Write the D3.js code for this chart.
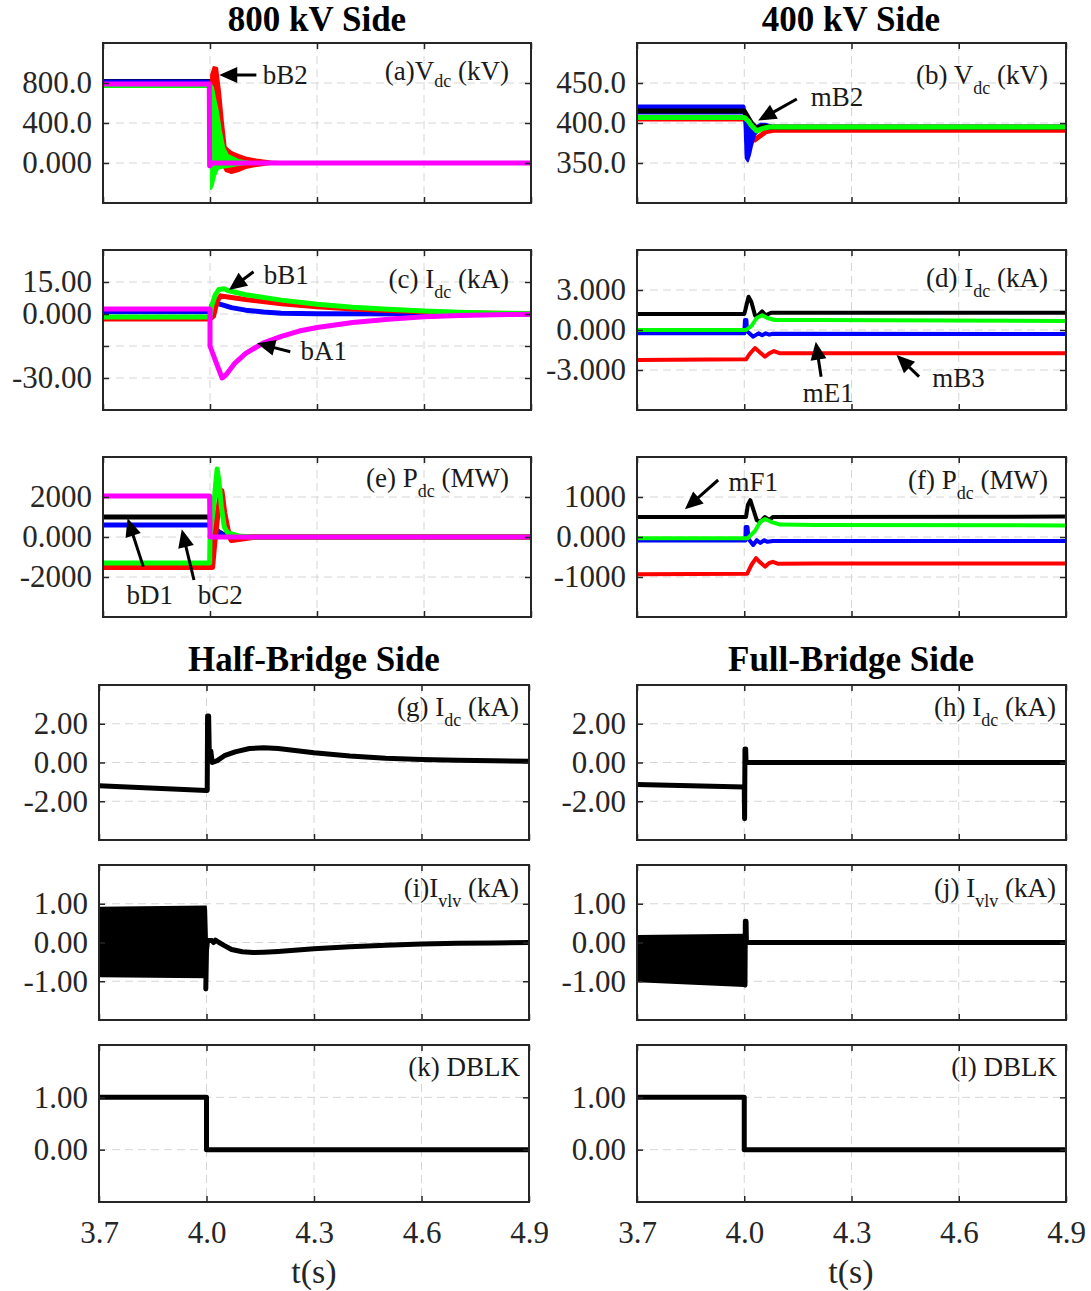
<!DOCTYPE html>
<html>
<head>
<meta charset="utf-8">
<script src="https://cdn.jsdelivr.net/npm/d3@7"></script>
<style>
  body { margin: 0; background: #fff; }
  text { font-family: "Liberation Serif", "Times New Roman", serif; }
</style>
</head>
<body>
<svg id="chart" width="1091" height="1291" font-family="Liberation Serif"></svg>
<script>
var red = "#ff0000", green = "#00ff00", blue = "#0000ff", black = "#000000", magenta = "#ff00ff";

// shared time axis
var xTicks = [3.7, 4.0, 4.3, 4.6, 4.9];
var xTickLabels = ["3.7", "4.0", "4.3", "4.6", "4.9"];
var xGrid = [4.0, 4.3, 4.6];
var colTitles = ["800 kV Side", "400 kV Side", "Half-Bridge Side", "Full-Bridge Side"];

// (a) Vdc, 800 kV side
var aTicks = [0, 400, 800];
var aTickLabels = ["0.000", "400.0", "800.0"];
var aBlack = [[3.7, 820], [4.0, 820], [4.0, 0], [4.9, 0]];
var aBlue = [[3.7, 815], [4.0, 815], [4.0, 0], [4.9, 0]];
var aRed = [[3.7, 775], [4.0, 775], [4.005, 0], [4.9, 0]];
var aRedBand = [[4.003, -40, 880], [4.01, 30, 960], [4.02, 80, 950], [4.028, 40, 720], [4.036, -20, 420],
                [4.044, -80, 160], [4.06, -100, 110], [4.08, -80, 80], [4.1, -50, 55], [4.13, -30, 35],
                [4.17, -10, 15], [4.22, 0, 5]];
var aGreen = [[3.7, 770], [4.0, 770], [4.003, 0], [4.9, 0]];
var aGreenBand = [[4.003, -260, 780], [4.008, -220, 760], [4.014, -130, 650], [4.022, -60, 520], [4.03, -50, 330],
                  [4.04, -45, 150], [4.05, -40, 80], [4.08, -20, 30], [4.12, 0, 5]];
var aMagenta = [[3.7, 790], [3.998, 790], [3.999, -30], [4.005, 0], [4.9, 0]];

// (b) Vdc, 400 kV side
var bTicks = [350, 400, 450];
var bTickLabels = ["350.0", "400.0", "450.0"];
var bRed = [[3.7, 405], [4.0, 405], [4.01, 400], [4.02, 386], [4.03, 379], [4.045, 384], [4.06, 389], [4.08, 391], [4.9, 391]];
var bBlueBand = [[3.7, 412, 422], [3.999, 412, 422], [4.001, 395, 420], [4.004, 356, 408], [4.01, 352, 396],
                 [4.016, 360, 392], [4.022, 372, 390], [4.03, 385, 395], [4.045, 392, 399], [4.06, 394, 399],
                 [4.08, 394, 396], [4.9, 394, 396]];
var bBlack = [[3.7, 415], [4.0, 415], [4.02, 400], [4.035, 393], [4.05, 396], [4.07, 395], [4.9, 395]];
var bGreen = [[3.7, 407], [4.0, 407], [4.01, 403], [4.02, 397], [4.035, 390], [4.05, 393], [4.07, 395], [4.9, 395]];

// (c) Idc, 800 kV side
var cTicks = [-30, -15, 0, 15];
var cTickLabels = ["-30.00", "", "0.000", "15.00"];
var cRed = [[3.7, -2.3], [4.0, -2.3], [4.01, -1], [4.02, 6], [4.03, 8.5], [4.05, 8], [4.1, 6.8], [4.2, 4.8], [4.3, 3.4],
            [4.4, 2.4], [4.5, 1.6], [4.6, 1], [4.7, 0.6], [4.8, 0.3], [4.9, 0.1]];
var cBlue = [[3.7, 1], [4.0, 1], [4.005, 4], [4.012, 5.5], [4.03, 4.5], [4.06, 3], [4.1, 1.8], [4.15, 0.9], [4.2, 0.4],
             [4.3, 0.1], [4.9, 0]];
var cGreen = [[3.7, -1.4], [4.0, -1.4], [4.005, 4], [4.015, 9], [4.025, 11.5], [4.04, 11.8], [4.05, 11], [4.1, 9],
              [4.2, 6.5], [4.3, 4.6], [4.4, 3.2], [4.5, 2.2], [4.6, 1.4], [4.7, 0.8], [4.8, 0.4], [4.9, 0.2]];
var cMagenta = [[3.7, 2.3], [4.0, 2.3], [4.0, -15], [4.02, -24], [4.034, -30], [4.045, -28.5], [4.07, -23], [4.1, -18.5],
                [4.15, -13.5], [4.2, -10.5], [4.25, -8], [4.3, -6.3], [4.4, -4], [4.5, -2.5], [4.6, -1.3],
                [4.7, -0.7], [4.8, -0.3], [4.9, -0.1]];

// (d) Idc, 400 kV side
var dTicks = [-3, 0, 3];
var dTickLabels = ["-3.000", "0.000", "3.000"];
var dBlack = [[3.7, 1.2], [4.0, 1.2], [4.003, 1.5], [4.012, 2.5], [4.02, 2.1], [4.03, 1.1], [4.035, 1.0], [4.05, 1.4],
              [4.06, 1.1], [4.075, 1.3], [4.9, 1.3]];
var dGreen = [[3.7, 0], [4.005, 0], [4.02, 0.3], [4.035, 0.9], [4.05, 1.1], [4.065, 0.9], [4.085, 0.75], [4.2, 0.75],
              [4.9, 0.67]];
var dBlue = [[3.7, -0.25], [4.0, -0.25], [4.002, 0.75], [4.006, 0.75], [4.008, -0.1], [4.025, -0.5], [4.04, -0.25],
             [4.05, -0.4], [4.06, -0.25], [4.07, -0.35], [4.08, -0.28], [4.9, -0.3]];
var dRed = [[3.7, -2.25], [4.005, -2.2], [4.015, -1.8], [4.03, -1.35], [4.045, -1.7], [4.058, -2.0], [4.07, -1.75],
            [4.083, -1.58], [4.1, -1.75], [4.9, -1.75]];

// (e) Pdc, 800 kV side
var eTicks = [-2000, 0, 2000];
var eTickLabels = ["-2000", "0.000", "2000"];
var eBlack = [[3.7, 1000], [4.0, 1000], [4.003, 0], [4.02, 300], [4.04, 100], [4.1, 0], [4.9, 0]];
var eBlue = [[3.7, 600], [4.0, 600], [4.003, 0], [4.02, 300], [4.04, 50], [4.1, 0], [4.9, 0]];
var eRed = [[3.7, -1500], [4.006, -1500], [4.012, -300], [4.02, 1000], [4.032, 2300], [4.04, 1200], [4.05, 300],
            [4.06, -150], [4.08, -100], [4.12, 0], [4.9, 0]];
var eGreen = [[3.7, -1300], [3.999, -1300], [4.0, 0], [4.01, 1500], [4.02, 3400], [4.025, 2800], [4.032, 1500],
              [4.04, 500], [4.05, 200], [4.08, 50], [4.12, 0], [4.9, 0]];
var eMagenta = [[3.7, 2050], [3.999, 2050], [4.0, 0], [4.9, 0]];

// (f) Pdc, 400 kV side
var fTicks = [-1000, 0, 1000];
var fTickLabels = ["-1000", "0.000", "1000"];
var fBlack = [[3.7, 500], [4.005, 500], [4.01, 800], [4.017, 920], [4.025, 700], [4.035, 420], [4.045, 380],
              [4.058, 500], [4.07, 420], [4.08, 500], [4.9, 510]];
var fGreen = [[3.7, -30], [4.01, -30], [4.03, 150], [4.045, 380], [4.058, 450], [4.075, 380], [4.1, 310], [4.2, 300],
              [4.9, 290]];
var fBlue = [[3.7, -90], [4.003, -90], [4.004, 250], [4.009, 250], [4.012, -50], [4.025, -200], [4.035, -80],
             [4.045, -150], [4.055, -80], [4.065, -120], [4.08, -100], [4.9, -100]];
var fRed = [[3.7, -930], [4.008, -920], [4.02, -700], [4.033, -530], [4.045, -640], [4.058, -740], [4.07, -650],
            [4.08, -620], [4.095, -670], [4.2, -660], [4.9, -660]];

// (g) Idc, half-bridge side
var gTicks = [-2, 0, 2];
var gTickLabels = ["-2.00", "0.00", "2.00"];
var gBlack = [[3.7, -1.2], [4.0, -1.45], [4.002, -1.45], [4.003, 2.4], [4.006, 2.4], [4.008, 0.2], [4.012, 0.6],
              [4.016, 0.0], [4.03, 0.1], [4.05, 0.35], [4.08, 0.55], [4.12, 0.72], [4.16, 0.76], [4.2, 0.72],
              [4.3, 0.5], [4.4, 0.33], [4.5, 0.22], [4.6, 0.16], [4.7, 0.12], [4.8, 0.09], [4.9, 0.07]];

// (h) Idc, full-bridge side
var hTicks = [-2, 0, 2];
var hTickLabels = ["-2.00", "0.00", "2.00"];
var hBlack = [[3.7, -1.13], [4.0, -1.27], [4.001, -2.9], [4.002, 0.7], [4.004, 0.7], [4.005, 0], [4.9, 0]];

// (i) Ivlv, half-bridge side
var iTicks = [-1, 0, 1];
var iTickLabels = ["-1.00", "0.00", "1.00"];
var iBand = [[3.7, -0.7, 0.7], [3.702, -0.87, 0.9], [3.998, -0.9, 0.93], [3.999, -0.85, 0.85], [4.001, -0.3, 0.2]];
var iBlack = [[3.998, -1.2], [4.0, -0.2], [4.003, 0.05], [4.015, 0.05], [4.02, 0.0], [4.025, 0.06], [4.035, 0.0],
              [4.05, -0.08], [4.07, -0.18], [4.1, -0.24], [4.13, -0.26], [4.16, -0.25], [4.2, -0.23], [4.3, -0.16],
              [4.4, -0.11], [4.5, -0.07], [4.6, -0.04], [4.7, -0.02], [4.8, -0.01], [4.9, 0]];

// (j) Ivlv, full-bridge side
var jTicks = [-1, 0, 1];
var jTickLabels = ["-1.00", "0.00", "1.00"];
var jBand = [[3.7, -0.95, 0.15], [3.701, -1.0, 0.17], [4.0, -1.12, 0.2]];
var jBlack = [[4.002, -1.1], [4.003, 0.55], [4.005, 0.55], [4.006, 0], [4.9, 0]];

// (k), (l) DBLK
var kTicks = [0, 1];
var kTickLabels = ["0.00", "1.00"];
var kBlack = [[3.7, 1], [4.0, 1], [4.0, 0], [4.9, 0]];
var lBlack = [[3.7, 1], [4.0, 1], [4.0, 0], [4.9, 0]];

// annotations: tip, tail and text position in data units
var notes = [
    {panel: "a", text: "bB2", tip: [4.026, 880], tail: [4.13, 880], at: [4.148, 880], anchor: "start"},
    {panel: "b", text: "mB2", tip: [4.039, 403], tail: [4.147, 430], at: [4.186, 433], anchor: "start"},
    {panel: "c", text: "bB1", tip: [4.053, 11.25], tail: [4.122, 19.8], at: [4.151, 18.3], anchor: "start"},
    {panel: "c", text: "bA1", tip: [4.132, -13.75], tail: [4.225, -17.7], at: [4.254, -16.9], anchor: "start"},
    {panel: "d", text: "mE1", tip: [4.2, -0.88], tail: [4.215, -3.5], at: [4.235, -4.67], anchor: "middle"},
    {panel: "d", text: "mB3", tip: [4.426, -1.875], tail: [4.489, -3.5], at: [4.599, -3.55], anchor: "middle"},
    {panel: "e", text: "bD1", tip: [3.769, 935], tail: [3.813, -1483], at: [3.831, -2900], anchor: "middle"},
    {panel: "e", text: "bC2", tip: [3.921, 383], tail: [3.955, -2150], at: [4.029, -2900], anchor: "middle"},
    {panel: "f", text: "mF1", tip: [3.834, 693], tail: [3.927, 1425], at: [3.956, 1383], anchor: "start"}
];

var panels = [
    {key: "a", box: [103, 531, 43, 203], domain: [-400, 1200], ticks: aTicks, tickLabels: aTickLabels,
     label: ["(a)V", "dc", " (kV)"], labelDy: 37, labelRight: 22, subDy: 7,
     layers: [{data: aBlack, color: black}, {data: aBlue, color: blue}, {band: aRedBand, color: red},
              {data: aRed, color: red}, {band: aGreenBand, color: green}, {data: aGreen, color: green},
              {data: aMagenta, color: magenta, width: 5}]},
    {key: "b", box: [637, 1066, 43, 203], domain: [300, 500], ticks: bTicks, tickLabels: bTickLabels,
     label: ["(b) V", "dc", " (kV)"], labelDy: 41, labelRight: 18, subDy: 10,
     layers: [{data: bRed, color: red, width: 5}, {band: bBlueBand, color: blue}, {data: bBlack, color: black, width: 5},
              {data: bGreen, color: green, width: 5}]},
    {key: "c", box: [103, 531, 250, 410], domain: [-45, 30], ticks: cTicks, tickLabels: cTickLabels,
     label: ["(c) I", "dc", " (kA)"], labelDy: 38, labelRight: 22, subDy: 10,
     layers: [{data: cBlue, color: blue, width: 5}, {data: cRed, color: red, width: 5}, {data: cGreen, color: green, width: 5},
              {data: cMagenta, color: magenta, width: 5}]},
    {key: "d", box: [637, 1066, 250, 410], domain: [-6, 6], ticks: dTicks, tickLabels: dTickLabels,
     label: ["(d) I", "dc", " (kA)"], labelDy: 37, labelRight: 18, subDy: 10,
     layers: [{data: dBlack, color: black}, {data: dBlue, color: blue}, {data: dRed, color: red},
              {data: dGreen, color: green}]},
    {key: "e", box: [103, 531, 457, 617], domain: [-4000, 4000], ticks: eTicks, tickLabels: eTickLabels,
     label: ["(e) P", "dc", " (MW)"], labelDy: 30, labelRight: 22, subDy: 10,
     layers: [{data: eBlack, color: black, width: 5}, {data: eBlue, color: blue, width: 5}, {data: eRed, color: red, width: 6},
              {data: eGreen, color: green, width: 5}, {data: eMagenta, color: magenta, width: 5}]},
    {key: "f", box: [637, 1066, 457, 617], domain: [-2000, 2000], ticks: fTicks, tickLabels: fTickLabels,
     label: ["(f) P", "dc", " (MW)"], labelDy: 32, labelRight: 18, subDy: 10,
     layers: [{data: fBlack, color: black}, {data: fBlue, color: blue}, {data: fRed, color: red},
              {data: fGreen, color: green}]},
    {key: "g", box: [99, 529, 685, 840], domain: [-4, 4], ticks: gTicks, tickLabels: gTickLabels,
     label: ["(g) I", "dc", " (kA)"], labelDy: 31, labelRight: 10, subDy: 10,
     layers: [{data: gBlack, color: black, width: 5}]},
    {key: "h", box: [637, 1066, 685, 840], domain: [-4, 4], ticks: hTicks, tickLabels: hTickLabels,
     label: ["(h) I", "dc", " (kA)"], labelDy: 31, labelRight: 10, subDy: 10,
     layers: [{data: hBlack, color: black, width: 5}]},
    {key: "i", box: [99, 529, 865, 1020], domain: [-2, 2], ticks: iTicks, tickLabels: iTickLabels,
     label: ["(i)I", "vlv", " (kA)"], labelDy: 32, labelRight: 10, subDy: 10,
     layers: [{band: iBand, color: black}, {data: iBlack, color: black, width: 5}]},
    {key: "j", box: [637, 1066, 865, 1020], domain: [-2, 2], ticks: jTicks, tickLabels: jTickLabels,
     label: ["(j) I", "vlv", " (kA)"], labelDy: 32, labelRight: 10, subDy: 10,
     layers: [{band: jBand, color: black}, {data: jBlack, color: black, width: 5}]},
    {key: "k", box: [99, 529, 1045, 1202], domain: [-1, 2], ticks: kTicks, tickLabels: kTickLabels,
     label: ["(k) DBLK"], labelDy: 31, labelRight: 9, xLabels: true,
     layers: [{data: kBlack, color: black, width: 5}]},
    {key: "l", box: [637, 1066, 1045, 1202], domain: [-1, 2], ticks: kTicks, tickLabels: kTickLabels,
     label: ["(l) DBLK"], labelDy: 31, labelRight: 9, xLabels: true,
     layers: [{data: lBlack, color: black, width: 5}]}
];

var svg = d3.select("#chart");
svg.append("rect").attr("width", 1091).attr("height", 1291).attr("fill", "white");
var defs = svg.append("defs");

function styleAxis(sel) {
    sel.attr("font-family", null).attr("font-size", null);
    sel.select(".domain").remove();
    sel.selectAll("line").attr("stroke", "#262626").attr("stroke-width", 1.5);
    sel.selectAll("text").attr("font-size", 31).attr("fill", "#262626");
}

function drawPanel(p) {
    let x = d3.scaleLinear().domain([3.7, 4.9]).range([p.box[0], p.box[1]]);
    let y = d3.scaleLinear().domain(p.domain).range([p.box[3], p.box[2]]);
    let g = svg.append("g").attr("id", "panel-" + p.key);
    let w = p.box[1] - p.box[0], h = p.box[3] - p.box[2];

    defs.append("clipPath").attr("id", "clip-" + p.key).append("rect")
        .attr("x", p.box[0]).attr("y", p.box[2]).attr("width", w).attr("height", h);

    g.selectAll(".gridx").data(xGrid).enter().append("line")
        .attr("x1", function(d) { return x(d); }).attr("x2", function(d) { return x(d); })
        .attr("y1", p.box[2]).attr("y2", p.box[3])
        .attr("stroke", "#d6d6d6").attr("stroke-width", 1).attr("stroke-dasharray", "8,5");
    g.selectAll(".gridy").data(p.ticks).enter().append("line")
        .attr("x1", p.box[0]).attr("x2", p.box[1])
        .attr("y1", function(d) { return y(d); }).attr("y2", function(d) { return y(d); })
        .attr("stroke", "#d6d6d6").attr("stroke-width", 1).attr("stroke-dasharray", "8,5");

    let plot = g.append("g").attr("clip-path", "url(#clip-" + p.key + ")");
    let line = d3.line().x(function(d) { return x(d[0]); }).y(function(d) { return y(d[1]); });
    let area = d3.area().x(function(d) { return x(d[0]); })
        .y0(function(d) { return y(d[1]); }).y1(function(d) { return y(d[2]); });

    p.layers.forEach(function(l) {
        if (l.band) {
            plot.append("path").datum(l.band).attr("d", area)
                .attr("fill", l.color).attr("stroke", l.color)
                .attr("stroke-width", 2).attr("stroke-linejoin", "round");
        } else {
            plot.append("path").datum(l.data).attr("d", line)
                .attr("fill", "none").attr("stroke", l.color)
                .attr("stroke-width", l.width || 4)
                .attr("stroke-linejoin", "round").attr("stroke-linecap", "round");
        }
    });

    // ticks on all four sides, labels left (and bottom for last row)
    let left = g.append("g").attr("transform", "translate(" + p.box[0] + ",0)")
        .call(d3.axisLeft(y).tickValues(p.ticks)
            .tickFormat(function(d, i) { return p.tickLabels[i]; })
            .tickSize(-6).tickPadding(11));
    styleAxis(left);
    let right = g.append("g").attr("transform", "translate(" + p.box[1] + ",0)")
        .call(d3.axisRight(y).tickValues(p.ticks).tickFormat("").tickSize(-6));
    styleAxis(right);
    let top = g.append("g").attr("transform", "translate(0," + p.box[2] + ")")
        .call(d3.axisTop(x).tickValues(xTicks).tickFormat("").tickSize(-6));
    styleAxis(top);
    let bottom = g.append("g").attr("transform", "translate(0," + p.box[3] + ")")
        .call(d3.axisBottom(x).tickValues(xTicks)
            .tickFormat(function(d, i) { return p.xLabels ? xTickLabels[i] : ""; })
            .tickSize(-6).tickPadding(18));
    styleAxis(bottom);
    bottom.selectAll("text").attr("dy", "0.75em");

    g.append("rect")
        .attr("x", p.box[0]).attr("y", p.box[2]).attr("width", w).attr("height", h)
        .attr("fill", "none").attr("stroke", "#262626").attr("stroke-width", 2);

    let lbl = g.append("text")
        .attr("x", p.box[1] - p.labelRight).attr("y", p.box[2] + p.labelDy)
        .attr("text-anchor", "end").attr("font-size", 27).attr("fill", "#1a1a1a");
    lbl.append("tspan").text(p.label[0]);
    if (p.label.length > 1) {
        lbl.append("tspan").attr("font-size", 18).attr("dy", p.subDy).text(p.label[1]);
        lbl.append("tspan").attr("dy", -p.subDy).text(p.label[2]);
    }

    notes.filter(function(n) { return n.panel === p.key; }).forEach(function(n) {
        let tx = x(n.tip[0]), ty = y(n.tip[1]);
        let sx = x(n.tail[0]), sy = y(n.tail[1]);
        let dx = tx - sx, dy = ty - sy, len = Math.sqrt(dx * dx + dy * dy);
        let ux = dx / len, uy = dy / len, hl = 18, hw = 8;
        g.append("line")
            .attr("x1", sx).attr("y1", sy)
            .attr("x2", tx - ux * hl * 0.8).attr("y2", ty - uy * hl * 0.8)
            .attr("stroke", "black").attr("stroke-width", 3);
        g.append("path")
            .attr("d", "M" + tx + "," + ty +
                "L" + (tx - ux * hl - uy * hw) + "," + (ty - uy * hl + ux * hw) +
                "L" + (tx - ux * hl + uy * hw) + "," + (ty - uy * hl - ux * hw) + "Z")
            .attr("fill", "black");
        g.append("text")
            .attr("x", x(n.at[0])).attr("y", y(n.at[1]))
            .attr("dy", "0.35em").attr("text-anchor", n.anchor)
            .attr("font-size", 27).attr("fill", "#1a1a1a")
            .text(n.text);
    });
}

panels.forEach(drawPanel);

// column titles
var titlePos = [[317, 31], [851, 31], [314, 671], [851, 671]];
svg.selectAll(".title").data(colTitles).enter().append("text")
    .attr("x", function(d, i) { return titlePos[i][0]; })
    .attr("y", function(d, i) { return titlePos[i][1]; })
    .attr("text-anchor", "middle").attr("font-size", 35).attr("font-weight", "bold")
    .attr("fill", "black")
    .text(function(d) { return d; });

// time axis labels
svg.selectAll(".xlabel").data([314, 851]).enter().append("text")
    .attr("x", function(d) { return d; }).attr("y", 1283)
    .attr("text-anchor", "middle").attr("font-size", 34).attr("fill", "#262626")
    .text("t(s)");
</script>
</body>
</html>
